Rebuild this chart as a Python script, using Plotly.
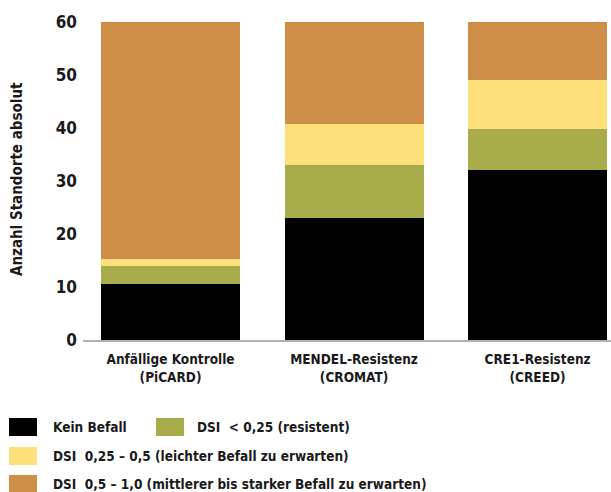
import plotly.graph_objects as go

# Categories (two-line labels) and stacked counts per infestation class
categories = ["Anfällige Kontrolle<br>(PiCARD)", "MENDEL-Resistenz<br>(CROMAT)", "CRE1-Resistenz<br>(CREED)"]
kein_befall = [10.6, 23.0, 32.0]
dsi_lt_025 = [3.3, 10.0, 7.8]
dsi_025_05 = [1.3, 7.7, 9.2]
dsi_05_10 = [44.8, 19.3, 11.0]

series_names = [
    "Kein Befall",
    "DSI  < 0,25 (resistent)",
    "DSI  0,25 – 0,5 (leichter Befall zu erwarten)",
    "DSI  0,5 – 1,0 (mittlerer bis starker Befall zu erwarten)",
]
series_values = [kein_befall, dsi_lt_025, dsi_025_05, dsi_05_10]
series_colors = ["#000000", "#A8AC4A", "#FEE07A", "#CF8E48"]

y_ticks = [0, 10, 20, 30, 40, 50, 60]

FONT = "DejaVu Sans Condensed, Liberation Sans Narrow, sans-serif"

x_pos = list(range(len(categories)))

fig = go.Figure()
for name, vals, col in zip(series_names, series_values, series_colors):
    fig.add_trace(go.Bar(
        x=x_pos, y=vals, name=name, width=0.757,
        marker=dict(color=col, line=dict(width=0)),
        showlegend=False,
    ))

# Legend drawn as swatches + labels in pixel-like paper positions
W, H = 611, 492
ml, mr, mt, mb = 83, 0, 22, 152
pw, ph = W - ml - mr, H - mt - mb

def px_x(x):
    return (x - ml) / pw

def px_y(y):
    return (H - mb - y) / ph

legend_layout = [
    (9, 418, 51),    # swatch left, swatch top, text left
    (156, 418, 195),
    (9, 447, 51),
    (9, 475, 51),
]
shapes = []
annotations = []
for (sx, sy, tx), name, col in zip(legend_layout, series_names, series_colors):
    shapes.append(dict(
        type="rect", xref="paper", yref="paper",
        x0=px_x(sx), x1=px_x(sx + 28), y0=px_y(sy + 18), y1=px_y(sy),
        fillcolor=col, line=dict(width=0), layer="above",
    ))
    annotations.append(dict(
        xref="paper", yref="paper", x=px_x(tx), y=px_y(sy + 9),
        xanchor="left", yanchor="middle", showarrow=False,
        text=name, font=dict(family=FONT, size=13.5, color="#1a1a1a", weight="bold"),
    ))

annotations.append(dict(
    xref="paper", yref="paper", x=px_x(17), y=px_y(179),
    xanchor="center", yanchor="middle", showarrow=False, textangle=-90,
    text="Anzahl Standorte absolut",
    font=dict(family=FONT, size=15, color="#1a1a1a", weight="bold"),
))

fig.update_layout(
    barmode="stack",
    width=W, height=H,
    margin=dict(l=ml, r=mr, t=mt, b=mb, pad=0),
    paper_bgcolor="white", plot_bgcolor="white",
    font=dict(family=FONT, color="#1a1a1a"),
    shapes=shapes, annotations=annotations,
    xaxis=dict(
        range=[-0.477, 2.40], tickvals=x_pos, ticktext=categories,
        showgrid=False, zeroline=False, showline=True,
        linecolor="#b0b0b0", linewidth=2, ticks="",
        tickfont=dict(family=FONT, size=13.5, color="#1a1a1a", weight="bold"),
        ticklabelstandoff=6, fixedrange=True,
    ),
    yaxis=dict(
        range=[0, 60], tickvals=y_ticks, showgrid=False, zeroline=False,
        showline=False, ticks="",
        tickfont=dict(family=FONT, size=17, color="#1a1a1a", weight="bold"),
        ticklabelstandoff=5, fixedrange=True,
    ),
)

fig.write_html("out.html")
